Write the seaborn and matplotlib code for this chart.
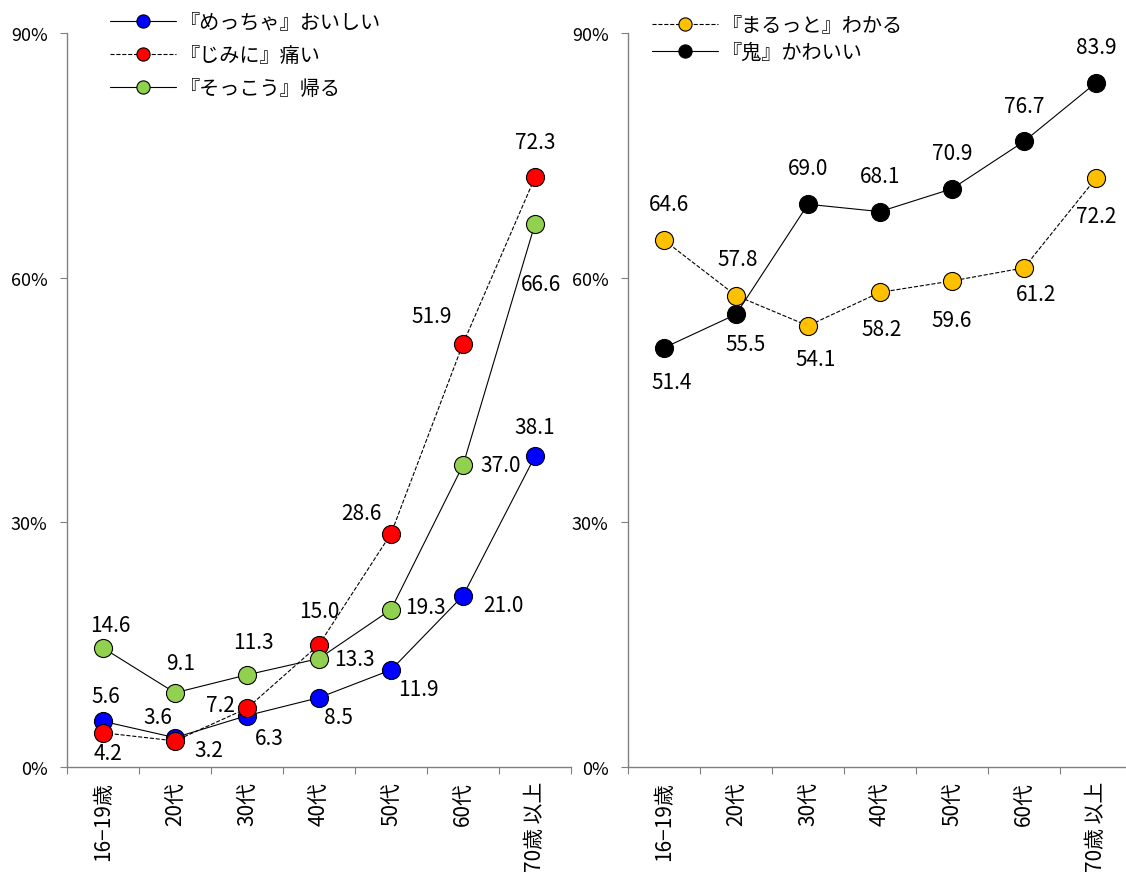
import numpy as np
import pandas as pd
import seaborn as sns
import matplotlib.pyplot as plt
from matplotlib.ticker import FuncFormatter

sns.set_style("white")
plt.rcParams['font.family'] = ['Noto Sans CJK JP', 'DejaVu Sans']
plt.rcParams['text.color'] = 'black'

categories = ['16\u221219歳', '20代', '30代', '40代', '50代', '60代', '70歳 以上']

mecha = [5.6, 3.6, 6.3, 8.5, 11.9, 21.0, 38.1]
jimini = [4.2, 3.2, 7.2, 15.0, 28.6, 51.9, 72.3]
sokkou = [14.6, 9.1, 11.3, 13.3, 19.3, 37.0, 66.6]
marutto = [64.6, 57.8, 54.1, 58.2, 59.6, 61.2, 72.2]
oni = [51.4, 55.5, 69.0, 68.1, 70.9, 76.7, 83.9]

# label offsets in pixels (right, down)
off_mecha = [(3, -25), (-17, -21), (22, 22), (19, 19), (27, 19), (40, 9), (0, -29)]
off_jimini = [(5, 20), (34, 9), (-27, -3), (0, -34), (-30, -21), (-31, -28), (0, -35)]
off_sokkou = [(7, -23), (6, -30), (6, -33), (35, 0), (34, -3), (38, 0), (6, 60)]
off_marutto = [(5, -36), (2, -37), (8, 33), (2, 37), (0, 39), (12, 26), (0, 38)]
off_oni = [(8, 34), (10, 30), (0, -36), (0, -36), (0, -36), (0, -35), (0, -36)]

left_series = [
    ('『めっちゃ』おいしい', mecha, '#0000FF', '-', off_mecha),
    ('『じみに』痛い', jimini, '#FF0000', '--', off_jimini),
    ('『そっこう』帰る', sokkou, '#92D050', '-', off_sokkou),
]
right_series = [
    ('『まるっと』わかる', marutto, '#FFC000', '--', off_marutto),
    ('『鬼』かわいい', oni, '#000000', '-', off_oni),
]

fig = plt.figure(figsize=(11.26, 8.78), dpi=100)
W, H = 1126, 878
ax1 = fig.add_axes([67 / W, 1 - 768 / H, 504 / W, 734 / H])
ax2 = fig.add_axes([628 / W, 1 - 768 / H, 504 / W, 734 / H])


def panel(ax, series, legend_xy, spacing):
    for name, vals, color, ls, offs in series:
        df = pd.DataFrame({'x': categories, 'y': vals})
        kw = dict(linestyle=ls)
        if ls == '--':
            kw['dashes'] = (5, 4)
        sns.lineplot(data=df, x='x', y='y', ax=ax, sort=False, color='black',
                     linewidth=0.8, marker='o', markersize=13,
                     markerfacecolor=color, markeredgecolor='black',
                     markeredgewidth=0.8, label=name, **kw)
        for i, (v, (dx, dy)) in enumerate(zip(vals, offs)):
            ax.annotate(f'{v:.1f}', (i, v), xytext=(dx, -dy),
                        textcoords='offset pixels', ha='center', va='center',
                        fontsize=15, color='black')

    ax.set_xlim(-0.5, 6.5)
    ax.set_ylim(0, 90)
    ax.set_yticks([0, 30, 60, 90])
    ax.yaxis.set_major_formatter(FuncFormatter(lambda v, p: f'{v:.0f}%'))
    ax.set_xticks(range(len(categories)))
    ax.set_xticklabels(categories, rotation=90, fontsize=15)
    ax.set_xticks(np.arange(-0.5, 7, 1), minor=True)
    ax.tick_params(axis='x', which='major', length=0, pad=10, labelcolor='black')
    ax.tick_params(axis='x', which='minor', length=5, width=0.8,
                   color='#808080', direction='out', bottom=True)
    ax.tick_params(axis='y', length=5, width=0.8, color='#808080',
                   direction='out', left=True, labelsize=13, pad=9,
                   labelcolor='black')
    ax.set_xlabel('')
    ax.set_ylabel('')
    for s in ['top', 'right']:
        ax.spines[s].set_visible(False)
    for s in ['left', 'bottom']:
        ax.spines[s].set_color('#808080')
        ax.spines[s].set_linewidth(1)
    leg = ax.legend(loc='upper left', bbox_to_anchor=legend_xy,
                    bbox_transform=fig.transFigure, frameon=False,
                    fontsize=14.5, handlelength=3.3, handletextpad=0.15,
                    labelspacing=spacing, borderaxespad=0, borderpad=0)
    for h in leg.legend_handles:
        h.set_markersize(9.5)
    for t in leg.get_texts():
        t.set_color('black')


panel(ax1, left_series, (110 / W, 1 - 13 / H), 0.6)
panel(ax2, right_series, (652 / W, 1 - 16 / H), 0.28)

fig.savefig('out.png', dpi=100)
